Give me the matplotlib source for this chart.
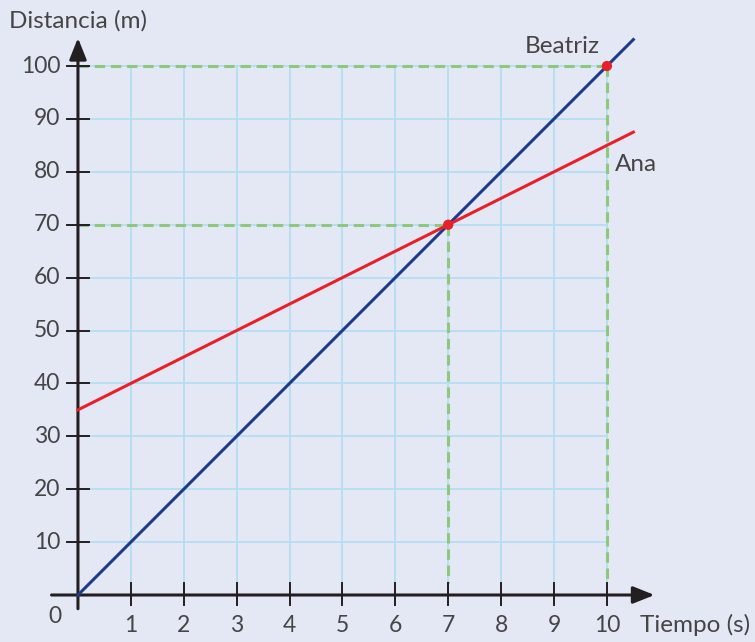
import matplotlib
matplotlib.use("Agg")
import matplotlib.pyplot as plt

# Data
tiempo = [0, 10.5]
beatriz = [0, 105]
ana = [35, 87.5]
puntos_x = [7, 10]
puntos_y = [70, 100]
x_ticks = [1, 2, 3, 4, 5, 6, 7, 8, 9, 10]
y_ticks = [10, 20, 30, 40, 50, 60, 70, 80, 90, 100]

BG = "#e4e8f4"
GRID = "#b4def5"
AXC = "#231f20"
TXT = "#454545"
BLUE = "#1e3a8a"
RED = "#e8202a"
GREEN = "#8cc97c"

plt.rcParams['font.family'] = ['Lato', 'DejaVu Sans']

fig = plt.figure(figsize=(7.55, 6.42), dpi=100, facecolor=BG)
ax = fig.add_axes([0, 0, 1, 1])
ax.set_facecolor(BG)
ax.set_xlim(-1.474, 12.80)
ax.set_ylim(-8.885, 112.48)
ax.axis('off')

fw = 'normal'
fs_tick = 16.5
fs_lab = 17.5

# grid
for x in x_ticks:
    ax.plot([x, x], [2.3, 100], color=GRID, lw=1.3, zorder=1)
for y in y_ticks:
    ax.plot([0, 10], [y, y], color=GRID, lw=1.3, zorder=1)

# dashed guides
dash = dict(color=GREEN, lw=2.2, ls=(0, (3.4, 1.9)), zorder=2)
ax.plot([0, 10], [100, 100], **dash)
ax.plot([10, 10], [100, 2.3], **dash)
ax.plot([0, 7], [70, 70], **dash)
ax.plot([7, 7], [70, 2.3], **dash)

# axes with arrows
ax.annotate('', xy=(10.9, 0), xytext=(-0.5, 0),
            arrowprops=dict(arrowstyle='-|>,head_length=0.5,head_width=0.2', lw=2.2,
                            color=AXC, mutation_scale=26, shrinkA=0, shrinkB=0), zorder=4)
ax.annotate('', xy=(0, 105.3), xytext=(0, -2.6),
            arrowprops=dict(arrowstyle='-|>,head_length=0.5,head_width=0.2', lw=2.2,
                            color=AXC, mutation_scale=26, shrinkA=0, shrinkB=0), zorder=4)

# tick marks
for x in x_ticks:
    ax.plot([x, x], [-1.9, 2.3], color=AXC, lw=1.4, zorder=4)
    ax.text(x, -5.7, str(x), ha='center', va='center', fontsize=fs_tick, color=TXT, fontweight=fw)
for y in y_ticks:
    ax.plot([-0.21, 0.21], [y, y], color=AXC, lw=1.4, zorder=4)
    ax.text(-0.33, y, str(y), ha='right', va='center', fontsize=fs_tick, color=TXT, fontweight=fw)
ax.text(-0.44, -4.1, '0', ha='center', va='center', fontsize=fs_tick, color=TXT, fontweight=fw)

# lines
ax.plot(tiempo, beatriz, color=BLUE, lw=2.2, zorder=5)
ax.plot(tiempo, ana, color=RED, lw=2.2, zorder=5)
ax.scatter(puntos_x, puntos_y, s=55, color=RED, zorder=6, edgecolors='none')

# labels
ax.text(-1.3, 108.5, 'Distancia (m)', ha='left', va='center', fontsize=fs_lab, color=TXT, fontweight=fw)
ax.text(10.62, -5.6, 'Tiempo (s)', ha='left', va='center', fontsize=fs_lab, color=TXT, fontweight=fw)
ax.text(9.15, 103.6, 'Beatriz', ha='center', va='center', fontsize=fs_lab, color=TXT, fontweight=fw)
ax.text(10.15, 81.3, 'Ana', ha='left', va='center', fontsize=fs_lab, color=TXT, fontweight=fw)

fig.savefig('out.png', dpi=100, facecolor=BG)
